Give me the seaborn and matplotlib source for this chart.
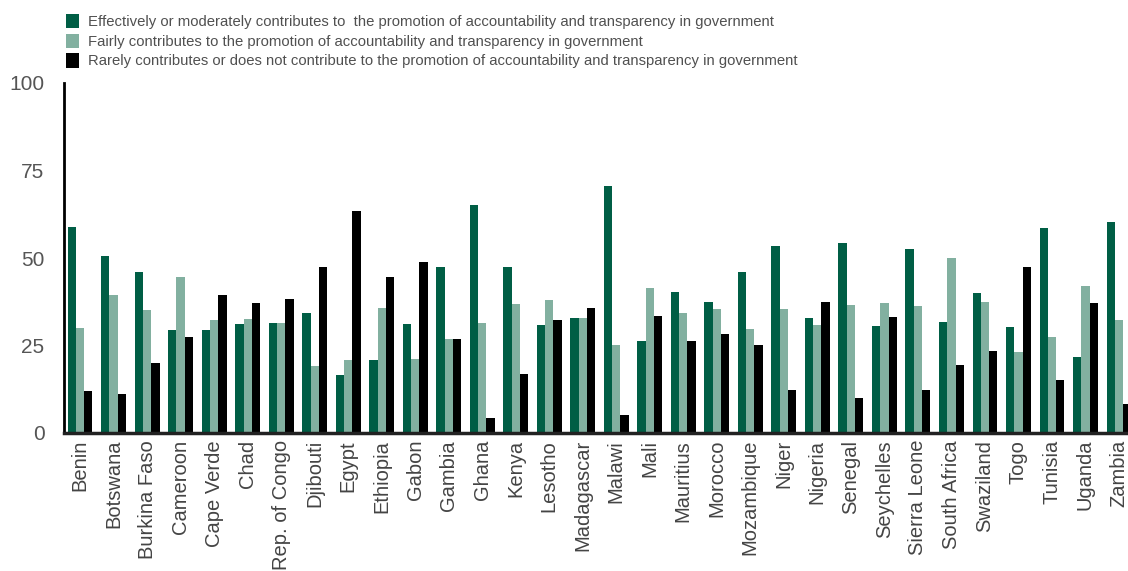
import numpy as np
import pandas as pd
import seaborn as sns
import matplotlib.pyplot as plt
from matplotlib.patches import Patch

# Countries and the share (%) in each answer group
countries = ['Benin', 'Botswana', 'Burkina Faso', 'Cameroon', 'Cape Verde', 'Chad',
             'Rep. of Congo', 'Djibouti', 'Egypt', 'Ethiopia', 'Gabon', 'Gambia',
             'Ghana', 'Kenya', 'Lesotho', 'Madagascar', 'Malawi', 'Mali', 'Mauritius',
             'Morocco', 'Mozambique', 'Niger', 'Nigeria', 'Senegal', 'Seychelles',
             'Sierra Leone', 'South Africa', 'Swaziland', 'Togo', 'Tunisia', 'Uganda',
             'Zambia']
effective = [58.9, 50.6, 46.0, 29.4, 29.4, 31.1, 31.4, 34.3, 16.6, 20.9, 31.1, 47.4,
             65.1, 47.4, 30.9, 32.9, 70.6, 26.3, 40.3, 37.4, 46.0, 53.4, 32.9, 54.3,
             30.6, 52.6, 31.7, 40.0, 30.3, 58.6, 21.7, 60.3]
fairly = [30.0, 39.4, 35.1, 44.6, 32.3, 32.6, 31.4, 19.1, 20.9, 35.7, 21.1, 26.9,
          31.4, 36.9, 38.0, 32.9, 25.1, 41.4, 34.3, 35.4, 29.7, 35.4, 30.9, 36.6,
          37.1, 36.3, 50.0, 37.4, 23.1, 27.4, 42.0, 32.3]
rarely = [12.0, 11.1, 20.0, 27.4, 39.4, 37.1, 38.3, 47.4, 63.4, 44.6, 48.9, 26.9,
          4.3, 16.9, 32.3, 35.7, 5.1, 33.4, 26.3, 28.3, 25.1, 12.3, 37.4, 10.0,
          33.1, 12.3, 19.4, 23.4, 47.4, 15.1, 37.1, 8.3]

series = ['Effectively or moderately contributes to  the promotion of accountability and transparency in government',
          'Fairly contributes to the promotion of accountability and transparency in government',
          'Rarely contributes or does not contribute to the promotion of accountability and transparency in government']
colors = ['#005e45', '#82b0a0', '#000000']

df = pd.DataFrame({'country': countries, series[0]: effective,
                   series[1]: fairly, series[2]: rarely})
df_long = df.melt(id_vars='country', var_name='answer', value_name='pct')

sns.set_style('white')
plt.rcParams['font.family'] = ['Liberation Sans', 'DejaVu Sans']

fig = plt.figure(figsize=(11.28, 5.71), dpi=100)
ax = fig.add_axes([64 / 1128, 138 / 571, 1064 / 1128, 350 / 571])

sns.barplot(data=df_long, x='country', y='pct', hue='answer', hue_order=series,
            palette=colors, width=0.74, gap=0, saturation=1, linewidth=0,
            ax=ax, legend=False)

ax.set_ylim(0, 100)
ax.set_xlim(-0.48, 31.27)
ax.set_yticks([0, 25, 50, 75, 100])
ax.set_xlabel('')
ax.set_ylabel('')
ax.tick_params(axis='y', length=0, labelsize=15, labelcolor='#555555', pad=14)
ax.tick_params(axis='x', length=0, labelsize=14.5, labelcolor='#444444', pad=5)
for lbl in ax.get_xticklabels():
    lbl.set_rotation(90)

for s in ['top', 'right']:
    ax.spines[s].set_visible(False)
ax.spines['left'].set_linewidth(2)
ax.spines['left'].set_color('black')
ax.spines['bottom'].set_linewidth(2.5)
ax.spines['bottom'].set_color('#222222')

handles = [Patch(facecolor=c, edgecolor='none') for c in colors]
fig.legend(handles, series, loc='upper left', bbox_to_anchor=(60 / 1128, 1 - 8 / 571),
           frameon=False, fontsize=10.7, labelcolor='#505050',
           handlelength=0.85, handleheight=1.1, handletextpad=0.65,
           labelspacing=0.3, borderaxespad=0)

fig.savefig('out.png', dpi=100)
